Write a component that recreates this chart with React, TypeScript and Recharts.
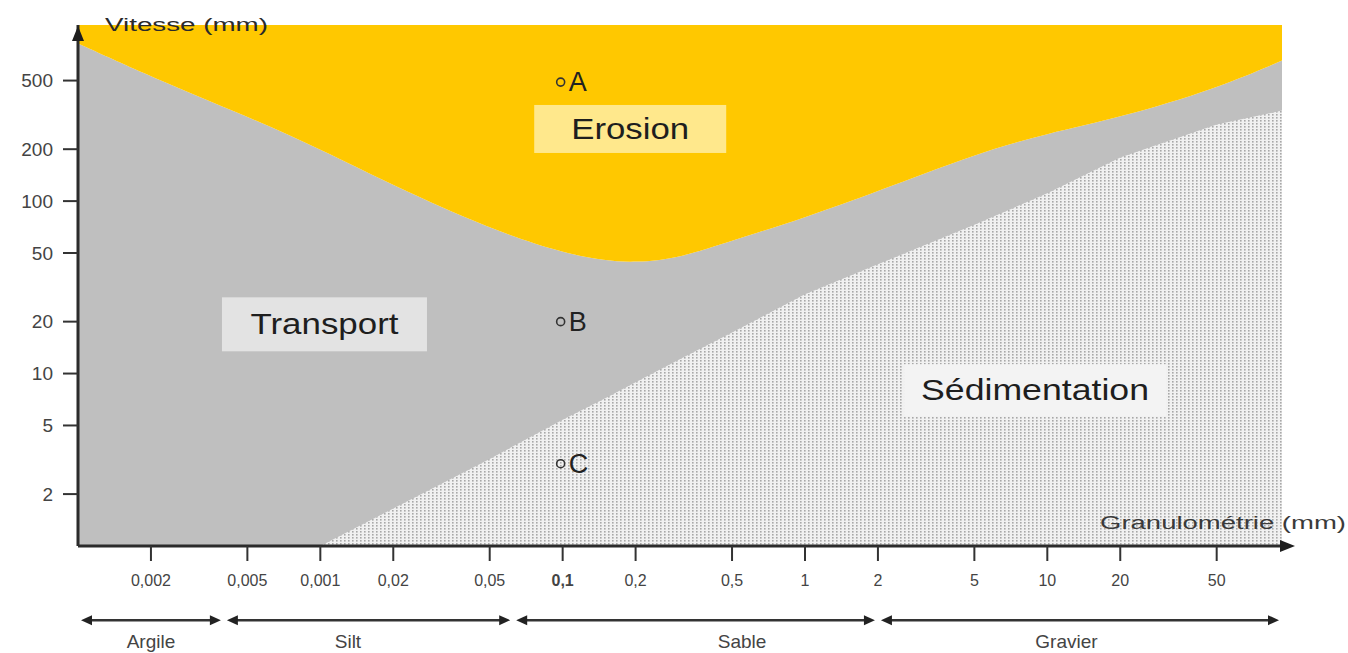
import React from "react";
import {
  ComposedChart,
  Area,
  XAxis,
  YAxis,
  Scatter,
  ReferenceLine,
  ReferenceDot,
} from "recharts";

// boundary curves (grain size in mm, speed as printed on the axis)
const grainSizes = [0.001, 0.002, 0.005, 0.01, 0.02, 0.05, 0.1, 0.15, 0.2, 0.3, 0.5, 1, 2, 5, 10, 20, 50, 93];
const erosionSpeed = [820, 525, 310, 200, 123, 69, 50, 45, 44, 46.5, 59, 80, 114, 187, 247, 305, 450, 653];
const sedimentSpeed = [1, 1, 1, 1, 1.65, 3.2, 5.4, 7.2, 8.9, 12, 17.3, 28.8, 43, 73, 111, 179, 278, 335];

const grainMin = 0.001;
const grainMax = 93;
const speedMin = 1;
const speedTop = 1050;

const xTickValues = [0.002, 0.005, 0.01, 0.02, 0.05, 0.1, 0.2, 0.5, 1, 2, 5, 10, 20, 50];
const xTickLabels = ["0,002", "0,005", "0,001", "0,02", "0,05", "0,1", "0,2", "0,5", "1", "2", "5", "10", "20", "50"];
const yTickValues = [2, 5, 10, 20, 50, 100, 200, 500];

const classNames = ["Argile", "Silt", "Sable", "Gravier"];
const classBounds = [0.001, 0.004, 0.0625, 2, 93];
const classLabelAt = [0.002, 0.013, 0.55, 12];

const pointNames = ["A", "B", "C"];
const pointGrain = [0.1, 0.1, 0.1];
const pointSpeed = [490, 20, 3];

const regionNames = ["Erosion", "Transport", "Sédimentation"];
const regionGrain = [0.19, 0.0104, 8.9];
const regionSpeed = [262, 19.3, 8];

const lg = Math.log10;
const FONT = "'Liberation Sans', Arial, sans-serif";

// the chart works in log10 units on linear axes
const data = grainSizes.map((g, i) => ({
  x: lg(g),
  transport: [lg(speedMin), lg(erosionSpeed[i])],
  sed: [lg(speedMin), lg(sedimentSpeed[i])],
  erosion: [lg(erosionSpeed[i]), lg(speedTop)],
}));

const points = pointNames.map((name, i) => ({
  x: lg(pointGrain[i]),
  y: lg(pointSpeed[i]),
  name,
}));

// below-axis rows, in log units of the y axis
const bandY = -0.43;
const bandLabelY = -0.55;

const regionBox: Record<string, { w: number; h: number; fill: string; len: number }> = {
  Erosion: { w: 192, h: 48, fill: "#ffe88c", len: 118 },
  Transport: { w: 205, h: 54, fill: "#e3e3e3", len: 148 },
  "Sédimentation": { w: 262, h: 52, fill: "#f3f3f3", len: 228 },
};

const tickLabelFor = (v: number) => {
  let best = 0;
  xTickValues.forEach((t, i) => {
    if (Math.abs(lg(t) - v) < Math.abs(lg(xTickValues[best]) - v)) best = i;
  });
  return xTickLabels[best];
};

const XTick = (props: any) => {
  const { x, y, payload } = props;
  const label = tickLabelFor(payload.value);
  return (
    <text
      x={x}
      y={y + 23}
      textAnchor="middle"
      fontFamily={FONT}
      fontSize={16}
      fontWeight={label === "0,1" ? 700 : 400}
      fill="#444"
    >
      {label}
    </text>
  );
};

const BandArrow = (p: any) => {
  const a = p.x1 + 3;
  const b = p.x2 - 3;
  const y = p.y1;
  return (
    <g>
      <line x1={a + 6} y1={y} x2={b - 6} y2={y} stroke="#333" strokeWidth={2.5} />
      <polygon points={`${a},${y} ${a + 11},${y - 5} ${a + 11},${y + 5}`} fill="#222" />
      <polygon points={`${b},${y} ${b - 11},${y - 5} ${b - 11},${y + 5}`} fill="#222" />
    </g>
  );
};

const PointMark = (p: any) => (
  <g>
    <circle cx={p.cx - 2} cy={p.cy} r={4} fill="none" stroke="#333" strokeWidth={1.6} />
    <text x={p.cx + 6} y={p.cy + 9} fontFamily={FONT} fontSize={27} fill="#222">
      {p.payload.name}
    </text>
  </g>
);

export default function App() {
  return (
    <div style={{ position: "absolute", left: 0, top: 0, background: "#fff" }}>
      <ComposedChart
        width={1348}
        height={653}
        data={data}
        margin={{ top: 25, right: 66, bottom: 57, left: 0 }}
      >
        <defs>
          <pattern id="dots" width="4" height="3" patternUnits="userSpaceOnUse">
            <rect width="4" height="3" fill="#f1f1f1" />
            <rect x="0" y="0" width="1.6" height="1.6" fill="#a8a8a8" />
          </pattern>
        </defs>
        <XAxis
          type="number"
          dataKey="x"
          domain={[lg(grainMin), lg(grainMax)]}
          ticks={xTickValues.map(lg)}
          interval={0}
          allowDataOverflow
          height={50}
          tickSize={15}
          tickLine={{ stroke: "#333", strokeWidth: 2 }}
          axisLine={{ stroke: "#2b2b2b", strokeWidth: 3 }}
          tick={<XTick />}
        />
        <YAxis
          type="number"
          domain={[lg(speedMin), lg(speedTop)]}
          ticks={yTickValues.map(lg)}
          interval={0}
          allowDataOverflow
          width={78}
          tickSize={15}
          tickMargin={10}
          tickLine={{ stroke: "#333", strokeWidth: 2 }}
          axisLine={{ stroke: "#2b2b2b", strokeWidth: 3 }}
          tick={{ fill: "#444", fontSize: 19, fontFamily: FONT }}
          tickFormatter={(v: number) => String(Math.round(Math.pow(10, v)))}
        />
        {/* gray first, then dotted sedimentation and yellow erosion over it */}
        <Area dataKey="transport" type="basis" stroke="none" fill="#bfbfbf" fillOpacity={1} isAnimationActive={false} />
        <Area dataKey="sed" type="linear" stroke="none" fill="url(#dots)" fillOpacity={1} isAnimationActive={false} />
        <Area dataKey="erosion" type="basis" stroke="none" fill="#ffc800" fillOpacity={1} isAnimationActive={false} />

        {regionNames.map((name, i) => (
          <ReferenceDot
            key={name}
            x={lg(regionGrain[i])}
            y={lg(regionSpeed[i])}
            ifOverflow="visible"
            shape={(p: any) => {
              const b = regionBox[name];
              return (
                <g>
                  <rect x={p.cx - b.w / 2} y={p.cy - b.h / 2} width={b.w} height={b.h} fill={b.fill} />
                  <text
                    x={p.cx}
                    y={p.cy + 10}
                    textAnchor="middle"
                    fontFamily={FONT}
                    fontSize={29}
                    fill="#1e1e1e"
                    textLength={b.len}
                    lengthAdjust="spacingAndGlyphs"
                  >
                    {name}
                  </text>
                </g>
              );
            }}
          />
        ))}

        <Scatter data={points} dataKey="y" shape={<PointMark />} isAnimationActive={false} />

        {classNames.map((name, i) => (
          <ReferenceLine
            key={name}
            segment={[
              { x: lg(classBounds[i]), y: bandY },
              { x: lg(classBounds[i + 1]), y: bandY },
            ]}
            ifOverflow="visible"
            shape={BandArrow}
          />
        ))}
        {classNames.map((name, i) => (
          <ReferenceDot
            key={"l" + name}
            x={lg(classLabelAt[i])}
            y={bandLabelY}
            ifOverflow="visible"
            shape={(p: any) => (
              <text x={p.cx} y={p.cy + 7} textAnchor="middle" fontFamily={FONT} fontSize={19} fill="#444">
                {name}
              </text>
            )}
          />
        ))}

        {/* axis arrows and titles */}
        <ReferenceDot
          x={lg(grainMin)}
          y={lg(speedTop)}
          ifOverflow="visible"
          shape={(p: any) => (
            <g>
              <polygon points={`${p.cx},${p.cy + 1} ${p.cx - 6},${p.cy + 16} ${p.cx + 6},${p.cy + 16}`} fill="#1e1e1e" />
              <text
                x={p.cx + 27}
                y={p.cy + 6}
                fontFamily={FONT}
                fontSize={18}
                fill="#2a2a2a"
                textLength={163}
                lengthAdjust="spacingAndGlyphs"
              >
                Vitesse (mm)
              </text>
            </g>
          )}
        />
        <ReferenceDot
          x={lg(grainMax)}
          y={lg(speedMin)}
          ifOverflow="visible"
          shape={(p: any) => (
            <g>
              <line x1={p.cx} y1={p.cy} x2={p.cx + 4} y2={p.cy} stroke="#2b2b2b" strokeWidth={3} />
              <polygon points={`${p.cx + 13},${p.cy} ${p.cx - 2},${p.cy - 6} ${p.cx - 2},${p.cy + 6}`} fill="#1e1e1e" />
              <text
                x={p.cx + 64}
                y={p.cy - 17}
                textAnchor="end"
                fontFamily={FONT}
                fontSize={18}
                fill="#3a3a3a"
                textLength={246}
                lengthAdjust="spacingAndGlyphs"
              >
                Granulométrie (mm)
              </text>
            </g>
          )}
        />
      </ComposedChart>
    </div>
  );
}
